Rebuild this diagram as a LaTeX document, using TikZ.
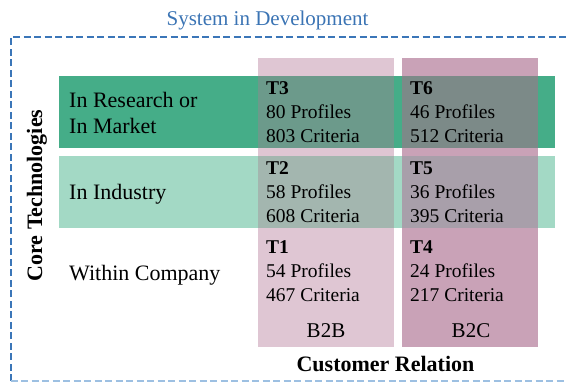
\documentclass[tikz,border=0pt]{standalone}
\usepackage{fontspec}
\setmainfont{Liberation Serif}
\definecolor{framecol}{HTML}{3B76B8}
\definecolor{framelite}{HTML}{9DC0E2}
\definecolor{titlecol}{HTML}{3B74B4}
\definecolor{rowdark}{HTML}{45AD88}
\definecolor{rowlight}{HTML}{A3D9C5}
\definecolor{colA}{HTML}{DFC6D3}
\definecolor{colB}{HTML}{C9A2B7}
\definecolor{cellAdark}{HTML}{6C9A8B}
\definecolor{cellBdark}{HTML}{7C8A88}
\definecolor{cellAlight}{HTML}{A3B6AF}
\definecolor{cellBlight}{HTML}{A89FAA}
\tikzset{
  frameline/.style={draw=framecol, line width=2pt, dash pattern=on 7pt off 3.5pt},
  framebottom/.style={draw=framelite, line width=2pt, dash pattern=on 7pt off 3.5pt},
  celltext/.style={anchor=north west, inner sep=0pt, align=left,
    font=\fontsize{19.5}{24}\selectfont},
  rowlabel/.style={inner sep=0pt, align=left,
    font=\fontsize{22}{26.7}\selectfont},
  collabel/.style={anchor=base, inner sep=0pt, font=\fontsize{21}{24}\selectfont},
  axislabel/.style={inner sep=0pt, font=\fontsize{22}{26}\selectfont\bfseries}
}
\begin{document}
\begin{tikzpicture}[x=1pt,y=-1pt]
\useasboundingbox (0,0) rectangle (566,381);

% dashed system boundary
\draw[frameline] (10.5,381) -- (10.5,37) -- (566,37);
\draw[framebottom] (10.5,380.5) -- (566,380.5);
\node[anchor=base, inner sep=0pt, text=titlecol, font=\fontsize{21}{24}\selectfont]
  (title) at (267.5,25) {System in Development};

% technology rows
\fill[rowdark]  (59,76)  rectangle (555,148);
\fill[rowlight] (59,156) rectangle (555,228);

% customer relation columns
\fill[colA] (258,58) rectangle (394,347);
\fill[colB] (402,58) rectangle (538,347);

% overlapping cells
\fill[cellAdark]  (258,76)  rectangle (394,148);
\fill[cellBdark]  (402,76)  rectangle (538,148);
\fill[cellAlight] (258,156) rectangle (394,228);
\fill[cellBlight] (402,156) rectangle (538,228);

% row labels
\node[rowlabel, anchor=north west] (research) at (69,91.8) {In Research or\\In Market};
\node[rowlabel, anchor=base west] (industry) at (69,199.3) {In Industry};
\node[rowlabel, anchor=base west] (company) at (69,280) {Within Company};

% cell contents
\node[celltext] (t3) at (266,81.2) {\textbf{T3}\\80 Profiles\\803 Criteria};
\node[celltext] (t6) at (410,81.2) {\textbf{T6}\\46 Profiles\\512 Criteria};
\node[celltext] (t2) at (266,161.3) {\textbf{T2}\\58 Profiles\\608 Criteria};
\node[celltext] (t5) at (410,161.3) {\textbf{T5}\\36 Profiles\\395 Criteria};
\node[celltext] (t1) at (266,240.6) {\textbf{T1}\\54 Profiles\\467 Criteria};
\node[celltext] (t4) at (410,240.6) {\textbf{T4}\\24 Profiles\\217 Criteria};

% column labels
\node[collabel] (b2b) at (326,337) {B2B};
\node[collabel] (b2c) at (471,337) {B2C};

% axis labels
\node[axislabel, anchor=base] (customer) at (385.5,371.7) {Customer Relation};
\node[axislabel, anchor=base, rotate=90] (core) at (42,195.5) {Core Technologies};
\end{tikzpicture}
\end{document}
